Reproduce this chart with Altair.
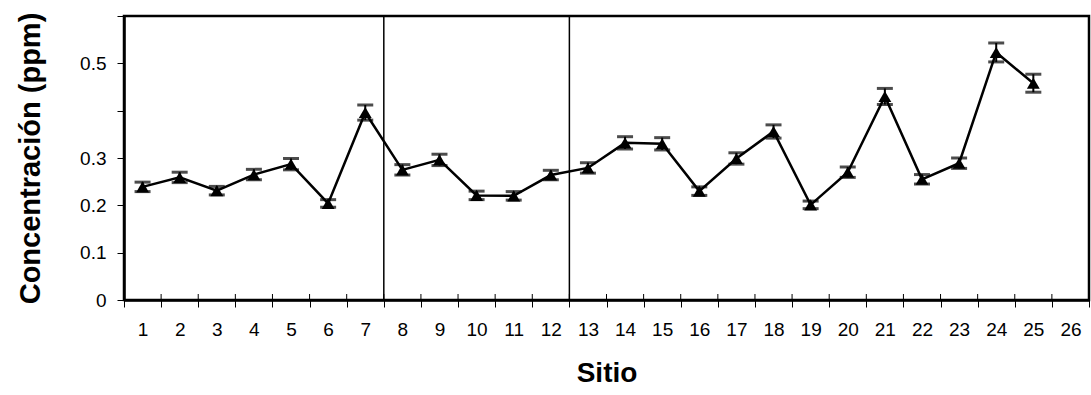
import altair as alt
import pandas as pd

sitio = list(range(1, 26))
conc = [0.239, 0.259, 0.231, 0.265, 0.287, 0.204, 0.396, 0.275, 0.296, 0.221,
        0.220, 0.264, 0.279, 0.332, 0.330, 0.230, 0.299, 0.356, 0.201, 0.270,
        0.430, 0.255, 0.289, 0.523, 0.458]
err = [0.010, 0.011, 0.009, 0.011, 0.012, 0.008, 0.016, 0.011, 0.012, 0.009,
       0.009, 0.010, 0.011, 0.013, 0.013, 0.009, 0.012, 0.014, 0.008, 0.011,
       0.017, 0.010, 0.011, 0.020, 0.019]
all_sites = list(range(1, 27))
separators = [8, 13]
y_ticks = [0, 0.1, 0.2, 0.3, 0.4, 0.5, 0.6]

df = pd.DataFrame({"sitio": sitio, "conc": conc, "err": err})
df["lo"] = df["conc"] - df["err"]
df["hi"] = df["conc"] + df["err"]
sep_df = pd.DataFrame({"sitio": separators})
tick_df = pd.DataFrame({"sitio": all_sites})

FONT = "Liberation Sans"
W, H = 965, 284

xscale = alt.Scale(type="band", domain=all_sites, paddingInner=0, paddingOuter=0)
yscale = alt.Scale(domain=[0, 0.6], nice=False, zero=True)

xaxis = alt.Axis(title="Sitio", tickBand="extent", labelAngle=0)
yaxis = alt.Axis(
    title="Concentración (ppm)", values=y_ticks,
    labelExpr="datum.value == 0 ? '0' : ((abs(datum.value - 0.4) < 0.001 || abs(datum.value - 0.6) < 0.001) ? '' : format(datum.value, '.1f'))",
)

X = alt.X("sitio:O", scale=xscale, axis=xaxis, bandPosition=0.5)
Xn = alt.X("sitio:O", scale=xscale, bandPosition=0.5)

base = alt.Chart(df)

seps = alt.Chart(sep_df).mark_rule(color="black", strokeWidth=1.5).encode(
    x=alt.X("sitio:O", scale=xscale, bandPosition=0, axis=xaxis)
)
inner_ticks = alt.Chart(tick_df).mark_rule(color="black", strokeWidth=1).encode(
    x=alt.X("sitio:O", scale=xscale, bandPosition=0, axis=xaxis),
    y=alt.value(H), y2=alt.value(H - 6)
)

line = base.mark_line(color="black", strokeWidth=2.5).encode(
    x=X, y=alt.Y("conc:Q", scale=yscale, axis=yaxis)
)
bars = base.mark_rule(color="black", strokeWidth=2).encode(
    x=Xn, y=alt.Y("lo:Q", scale=yscale), y2="hi:Q"
)
cap_lo = base.mark_tick(color="black", thickness=3, size=16, orient="horizontal").encode(
    x=Xn, y=alt.Y("lo:Q", scale=yscale)
)
cap_hi = base.mark_tick(color="black", thickness=3, size=16, orient="horizontal").encode(
    x=Xn, y=alt.Y("hi:Q", scale=yscale)
)
pts = base.mark_point(shape="triangle-up", filled=True, color="black", size=165, opacity=1).encode(
    x=Xn, y=alt.Y("conc:Q", scale=yscale)
)

chart = alt.layer(line, seps, inner_ticks, bars, cap_lo, cap_hi, pts).properties(
    width=W, height=H,
    autosize=alt.AutoSizeParams(type="none"),
    padding={"left": 124, "top": 16, "right": 2, "bottom": 95},
    background="white",
).configure_view(
    stroke="black", strokeWidth=2.5
).configure_axis(
    grid=False, tickSize=7, tickColor="black", tickWidth=1,
    domainColor="black", domainWidth=2.5,
    labelFont=FONT, labelFontSize=19, labelColor="black",
    titleFont=FONT, titleFontWeight="bold", titleColor="black",
).configure_axisX(
    labelPadding=13, titleFontSize=28, titlePadding=20,
).configure_axisY(
    labelPadding=11, titleFontSize=29, titlePadding=34,
)

chart.save("out.html", embed_options={"renderer": "svg", "actions": False})
